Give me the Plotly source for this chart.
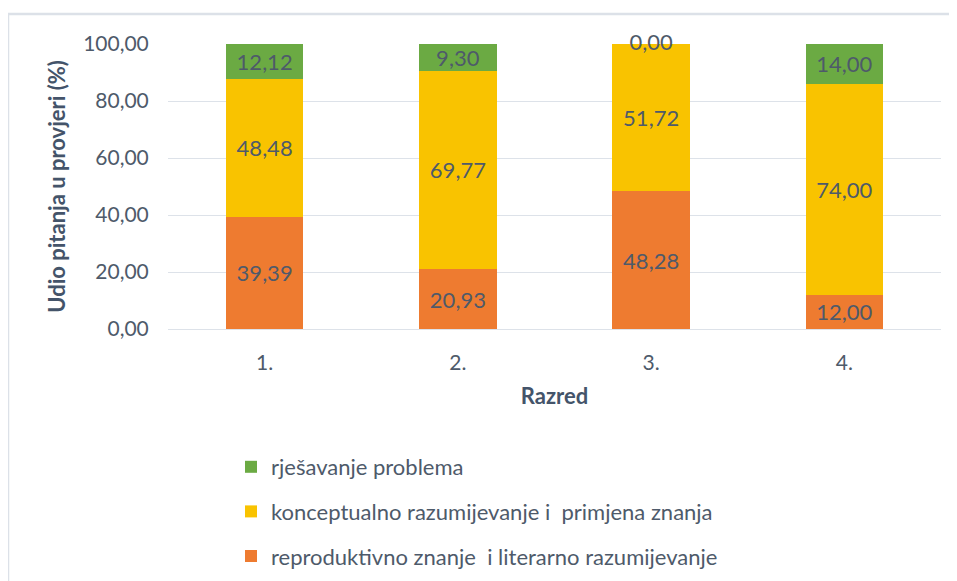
import plotly.graph_objects as go

categories = ["1.", "2.", "3.", "4."]
reproduktivno = [39.39, 20.93, 48.28, 12.00]
konceptualno = [48.48, 69.77, 51.72, 74.00]
rjesavanje = [12.12, 9.30, 0.00, 14.00]

series_names = [
    "reproduktivno znanje  i literarno razumijevanje",
    "konceptualno razumijevanje i  primjena znanja",
    "rješavanje problema",
]
series_values = [reproduktivno, konceptualno, rjesavanje]
colors = ["#EE7B30", "#F9C300", "#6BAA43"]
legend_ranks = [3, 2, 1]

TXT = "#4E5A6A"
FONT = "Lato, Carlito, Calibri, sans-serif"

def fmt(v):
    return ("%.2f" % v).replace(".", ",")

fig = go.Figure()
for i, (name, vals, col) in enumerate(zip(series_names, series_values, colors)):
    fig.add_trace(go.Bar(
        x=categories, y=vals, name=name,
        marker=dict(color=col, line=dict(width=0)),
        width=0.4,
        text=[fmt(v) if v > 0 else "" for v in vals],
        textposition="inside", insidetextanchor="middle", textangle=0,
        textfont=dict(size=22, color=TXT, family=FONT),
        legendgroup=f"g{i}", legendrank=legend_ranks[i],
    ))

# labels for zero-height segments, placed at the top of the stack
tops = [a + b + c for a, b, c in zip(*series_values)]
zero_x = [c for c, v in zip(categories, rjesavanje) if v == 0]
zero_y = [t for t, v in zip(tops, rjesavanje) if v == 0]
zero_t = [fmt(v) for v in rjesavanje if v == 0]
fig.add_trace(go.Scatter(
    x=zero_x, y=zero_y, text=zero_t, mode="text",
    textposition="middle center",
    textfont=dict(size=22, color=TXT, family=FONT),
    showlegend=False, cliponaxis=False, hoverinfo="skip",
))

# page offset of 8px (body margin) taken into account
W, H = 949, 573
L, T, R, B = 160, 36, 16, 252
PW = W - L - R
PH = H - T - B

def px_x(px):
    return (px - 8 - L) / PW

def px_y(py):
    return (H - B - (py - 8)) / PH

fig.update_layout(
    width=W, height=H,
    barmode="stack",
    separators=",.",
    paper_bgcolor="white", plot_bgcolor="white",
    font=dict(family=FONT, color=TXT),
    margin=dict(l=L, r=R, t=T, b=B, autoexpand=False),
    uniformtext=dict(minsize=22, mode="show"),
    legend=dict(
        x=px_x(231), y=px_y(446),
        xanchor="left", yanchor="top",
        traceorder="grouped", tracegroupgap=13,
        font=dict(size=22, color=TXT, family=FONT),
        itemwidth=30,
    ),
    shapes=[
        dict(type="line", xref="paper", yref="paper",
             x0=px_x(8), x1=px_x(975), y0=px_y(14), y1=px_y(14),
             line=dict(color="#DCE1E8", width=2.5)),
        dict(type="line", xref="paper", yref="paper",
             x0=px_x(8), x1=px_x(8), y0=px_y(14), y1=px_y(600),
             line=dict(color="#DCE1E8", width=2.5)),
    ],
)

fig.update_yaxes(
    range=[0, 100], dtick=20, tickformat=".2f",
    showgrid=True, gridcolor="#DDE2E9", gridwidth=1.2,
    zeroline=True, zerolinecolor="#DDE2E9", zerolinewidth=1.2,
    ticks="outside", ticklen=14, tickcolor="rgba(0,0,0,0)",
    tickfont=dict(size=21, color=TXT, family=FONT),
    title=dict(text="<b>Udio pitanja u provjeri (%)</b>", standoff=11,
               font=dict(size=22, color="#44546A", family=FONT)),
)
fig.update_xaxes(
    showgrid=False, showline=False,
    ticks="outside", ticklen=15, tickcolor="rgba(0,0,0,0)",
    tickfont=dict(size=21, color=TXT, family=FONT),
    title=dict(text="<b>Razred</b>", standoff=15,
               font=dict(size=22, color="#44546A", family=FONT)),
)

fig.write_html("out.html")
